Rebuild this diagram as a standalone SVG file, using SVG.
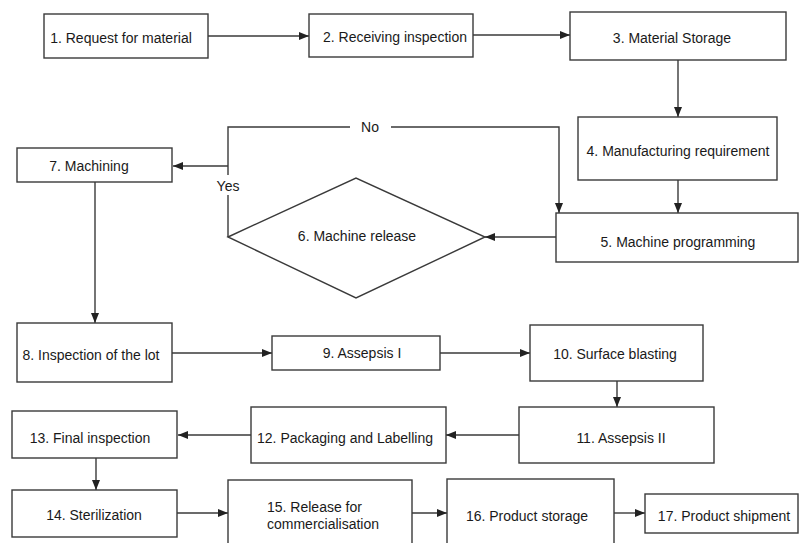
<svg xmlns="http://www.w3.org/2000/svg" width="799" height="543" viewBox="0 0 799 543">
<style>
.b{fill:#fff;stroke:#3a3a3a;stroke-width:1.4}
.t{font-family:"Liberation Sans",Arial,sans-serif;font-size:14px;fill:#1a1a1a;text-anchor:middle}
.l{text-anchor:start}
.c{fill:none;stroke:#3a3a3a;stroke-width:1.4}
</style>
<defs>
<marker id="a" viewBox="0 0 10 8" refX="10" refY="4" markerWidth="10" markerHeight="8" markerUnits="userSpaceOnUse" orient="auto">
<path d="M0,0 L10,4 L0,8 z" fill="#222"/>
</marker>
</defs>
<rect width="799" height="543" fill="#fff"/>
<g id="connectors">
<path class="c" d="M208,36 H309" marker-end="url(#a)"/>
<path class="c" d="M473,35 H570" marker-end="url(#a)"/>
<path class="c" d="M678,60 V117" marker-end="url(#a)"/>
<path class="c" d="M678,180 V213" marker-end="url(#a)"/>
<path class="c" d="M556,237 H485" marker-end="url(#a)"/>
<path class="c" d="M228,237 V195 M228,175 V127 H350 M391,127 H559 V213" marker-end="url(#a)"/>
<path class="c" d="M228,166 H173" marker-end="url(#a)"/>
<path class="c" d="M95,182 V323" marker-end="url(#a)"/>
<path class="c" d="M172,353 H272" marker-end="url(#a)"/>
<path class="c" d="M440,353 H530" marker-end="url(#a)"/>
<path class="c" d="M617,381 V407" marker-end="url(#a)"/>
<path class="c" d="M519,435 H446" marker-end="url(#a)"/>
<path class="c" d="M251,435 H178" marker-end="url(#a)"/>
<path class="c" d="M96,458 V490" marker-end="url(#a)"/>
<path class="c" d="M177,513 H228" marker-end="url(#a)"/>
<path class="c" d="M412,513 H447" marker-end="url(#a)"/>
<path class="c" d="M614,513 H645" marker-end="url(#a)"/>
<text class="t" x="370" y="132">No</text>
<text class="t" x="228" y="191">Yes</text>
</g>
<g id="n1"><rect class="b" x="44" y="14" width="164" height="44"/><text class="t" x="121" y="43">1. Request for material</text></g>
<g id="n2"><rect class="b" x="309" y="14" width="164" height="43"/><text class="t" x="395" y="42">2. Receiving inspection</text></g>
<g id="n3"><rect class="b" x="570" y="12" width="216" height="48"/><text class="t" x="672" y="43">3. Material Storage</text></g>
<g id="n4"><rect class="b" x="578" y="117" width="199" height="63"/><text class="t" x="678" y="156">4. Manufacturing requirement</text></g>
<g id="n5"><rect class="b" x="556" y="213" width="242" height="49"/><text class="t" x="678" y="247">5. Machine programming</text></g>
<g id="n6"><path class="b" d="M228,237 L356,178 L485,237 L356,298 Z"/><text class="t" x="357" y="241">6. Machine release</text></g>
<g id="n7"><rect class="b" x="17" y="148" width="155" height="34"/><text class="t" x="89" y="171">7. Machining</text></g>
<g id="n8"><rect class="b" x="17" y="323" width="155" height="59"/><text class="t" x="91" y="360">8. Inspection of the lot</text></g>
<g id="n9"><rect class="b" x="272" y="336" width="168" height="34"/><text class="t" x="362" y="358">9. Assepsis I</text></g>
<g id="n10"><rect class="b" x="530" y="325" width="173" height="56"/><text class="t" x="615" y="359">10. Surface blasting</text></g>
<g id="n11"><rect class="b" x="519" y="407" width="195" height="56"/><text class="t" x="621" y="443">11. Assepsis II</text></g>
<g id="n12"><rect class="b" x="251" y="407" width="195" height="56"/><text class="t" x="345" y="443">12. Packaging and Labelling</text></g>
<g id="n13"><rect class="b" x="12" y="411" width="165" height="47"/><text class="t" x="90" y="443">13. Final inspection</text></g>
<g id="n14"><rect class="b" x="12" y="490" width="165" height="47"/><text class="t" x="94" y="520">14. Sterilization</text></g>
<g id="n15"><rect class="b" x="228" y="480" width="184" height="70"/><text class="t l" x="267" y="512">15. Release for</text><text class="t l" x="267" y="529">commercialisation</text></g>
<g id="n16"><rect class="b" x="447" y="479" width="167" height="70"/><text class="t" x="527" y="521">16. Product storage</text></g>
<g id="n17"><rect class="b" x="645" y="494" width="153" height="39"/><text class="t" x="724" y="521">17. Product shipment</text></g>
</svg>
